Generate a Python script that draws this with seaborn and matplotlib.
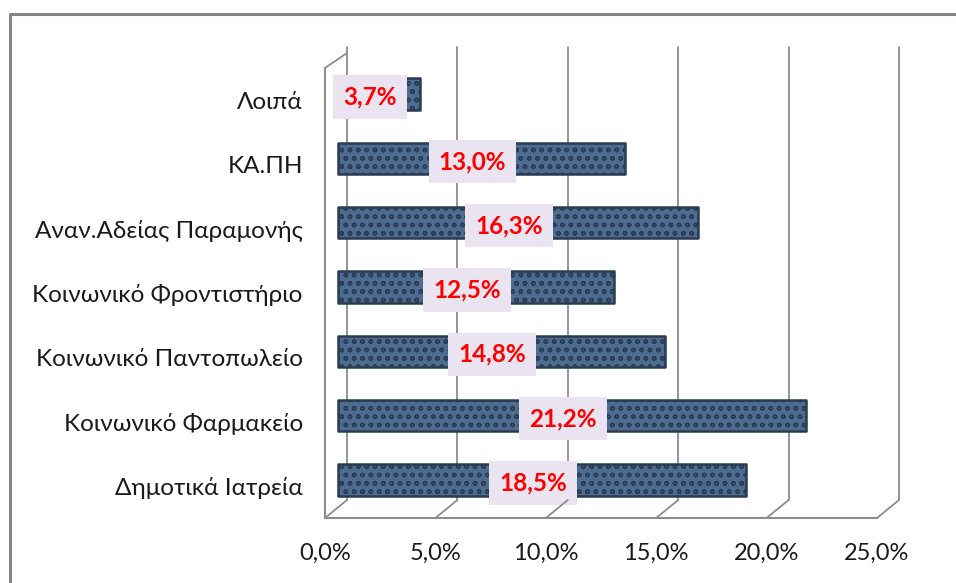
import numpy as np
import pandas as pd
import matplotlib
matplotlib.use('Agg')
import matplotlib.pyplot as plt
import matplotlib.transforms as mtransforms
from matplotlib.lines import Line2D
import seaborn as sns

# data
categories = ['Λοιπά', 'ΚΑ.ΠΗ', 'Αναν.Αδείας Παραμονής', 'Κοινωνικό Φροντιστήριο',
              'Κοινωνικό Παντοπωλείο', 'Κοινωνικό Φαρμακείο', 'Δημοτικά Ιατρεία']
values = [3.7, 13.0, 16.3, 12.5, 14.8, 21.2, 18.5]
xticks = [0, 5, 10, 15, 20, 25]
xticklabels = ['0,0%', '5,0%', '10,0%', '15,0%', '20,0%', '25,0%']

data = pd.DataFrame({'cat': categories, 'val': values})

sns.set_style('white')
plt.rcParams['font.family'] = ['Lato', 'DejaVu Sans']
plt.rcParams['hatch.color'] = '#b4cbe4'
plt.rcParams['hatch.linewidth'] = 1.0

W, H = 956, 583
fig = plt.figure(figsize=(W / 100, H / 100), dpi=100)
ax = fig.add_axes([325 / W, 1 - 518 / H, (877 - 325) / W, (518 - 68) / H])

grey = '#8c8c8c'

# bars (offset to sit in the middle of the 3d depth)
sns.barplot(data=data, x='val', y='cat', orient='h', color='#4d6c92', width=0.49,
            ax=ax, saturation=1, edgecolor='#2a3b52', linewidth=1.8, hatch='oo', zorder=3)
bar_tr = mtransforms.offset_copy(ax.transData, fig, x=13, y=6, units='dots')
for p in ax.patches:
    p.set_transform(bar_tr)
    p.set_joinstyle('round')

ax.set_xlim(0, 25)
ax.set_ylim(6.5, -0.5)

# back wall gridlines and floor diagonals
back_tr = mtransforms.offset_copy(ax.transData, fig, x=22, y=18, units='dots')
for v in xticks:
    ax.add_line(Line2D([v, v], [6.5, -0.5 - 0.05], transform=back_tr, color=grey, lw=1.3,
                       zorder=1, clip_on=False))
    xs = ax.transData.transform([(v, 6.5)])[0]
    pts = fig.transFigure.inverted().transform([xs, xs + [22, 18]])
    fig.add_artist(Line2D(pts[:, 0], pts[:, 1], color=grey, lw=1.3, zorder=1))
# top diagonal of left wall
xs = ax.transData.transform([(0, -0.5)])[0]
pts = fig.transFigure.inverted().transform([xs, xs + [22, 15]])
fig.add_artist(Line2D(pts[:, 0], pts[:, 1], color=grey, lw=1.3, zorder=1))

# data labels
lab_tr = mtransforms.offset_copy(ax.transData, fig, x=4, y=3, units='dots')
for i, v in enumerate(values):
    ax.text(v / 2, i, f'{v:.1f}%'.replace('.', ','), transform=lab_tr, ha='center', va='center',
            color='#ff0000', fontsize=17.5, fontweight='bold', zorder=5,
            bbox=dict(boxstyle='square,pad=0.42', facecolor='#e9e4ef', edgecolor='none'))

# axes styling
for s in ['top', 'right']:
    ax.spines[s].set_visible(False)
for s in ['left', 'bottom']:
    ax.spines[s].set_color(grey)
    ax.spines[s].set_linewidth(1.5)
ax.set_xticks(xticks)
ax.set_xticklabels(xticklabels, fontsize=17, color='#1a1a1a')
ax.set_yticks(range(len(categories)))
ax.set_yticklabels(categories, fontsize=17.5, color='#1a1a1a')
ax.set_yticks(np.arange(-0.5, 7, 1), minor=True)
ax.tick_params(axis='y', which='major', length=0, pad=16)
ax.tick_params(axis='y', which='minor', length=6, color=grey, width=1.3)
ax.tick_params(axis='x', which='major', length=6, color=grey, width=1.3, pad=12, direction='out')
ax.set_xlabel('')
ax.set_ylabel('')
ax.patch.set_alpha(0)

# outer chart frame
fig.add_artist(Line2D([9.5 / W, 1], [1 - 14 / H, 1 - 14 / H], color='#858585', lw=2.2))
fig.add_artist(Line2D([9.5 / W, 9.5 / W], [0, 1 - 14 / H], color='#858585', lw=2.2))

fig.savefig('out.png', dpi=100)
